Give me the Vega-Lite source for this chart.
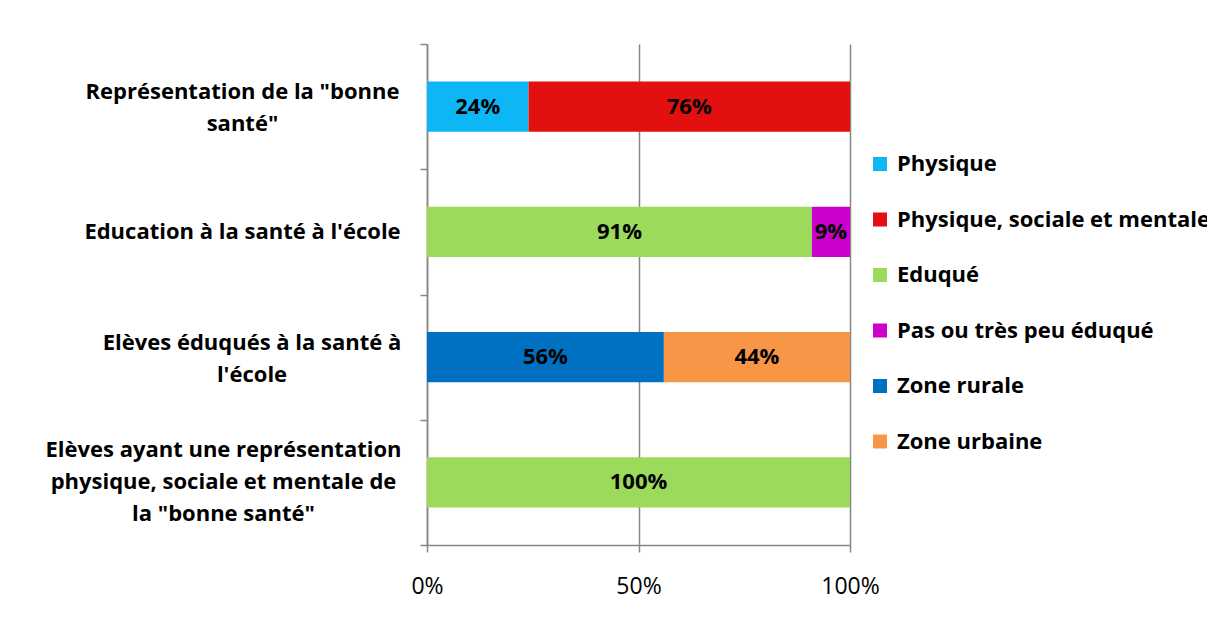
{
  "$schema": "https://vega.github.io/schema/vega-lite/v6.json",
  "width": 423,
  "height": 501,
  "autosize": "none",
  "padding": {"left": 427, "top": 44, "right": 357, "bottom": 78},
  "background": "white",
  "config": {"font": "Open Sans", "view": {"stroke": null}},
  "data": {
    "values": [
      {"q": "Représentation de la \"bonne santé\"", "cat": "Physique", "value": 0.24},
      {"q": "Représentation de la \"bonne santé\"", "cat": "Physique, sociale et mentale", "value": 0.76},
      {"q": "Education à la santé à l'école", "cat": "Eduqué", "value": 0.91},
      {"q": "Education à la santé à l'école", "cat": "Pas ou très peu éduqué", "value": 0.09},
      {"q": "Elèves éduqués à la santé à l'école", "cat": "Zone rurale", "value": 0.56},
      {"q": "Elèves éduqués à la santé à l'école", "cat": "Zone urbaine", "value": 0.44},
      {"q": "Elèves ayant une représentation physique, sociale et mentale de la \"bonne santé\"", "cat": "Eduqué", "value": 1.0}
    ]
  },
  "transform": [
    {"stack": "value", "groupby": ["q"], "sort": [{"field": "cat", "order": "ascending"}], "as": ["v0", "v1"]},
    {"calculate": "(datum.v0 + datum.v1) / 2", "as": "mid"}
  ],
  "encoding": {
    "y": {
      "field": "q",
      "type": "nominal",
      "sort": null,
      "title": null,
      "scale": {"paddingInner": 0, "paddingOuter": 0},
      "axis": {
        "grid": false,
        "tickBand": "extent",
        "domainColor": "#868686",
        "domainWidth": 1.5,
        "tickColor": "#868686",
        "tickWidth": 1.5,
        "tickSize": 7,
        "labelFont": "Open Sans",
        "labelFontWeight": "bold",
        "labelFontSize": 22,
        "labelColor": "black",
        "labelLineHeight": 32,
        "labelLimit": 0,
        "labelAlign": "center",
        "labelBaseline": "middle",
        "labelOffset": {"expr": "datum.value == 'Elèves ayant une représentation physique, sociale et mentale de la \"bonne santé\"' ? -33 : (datum.value == 'Education à la santé à l\\'école' ? 0 : -15)"},
        "labelPadding": {"expr": "datum.value == 'Elèves ayant une représentation physique, sociale et mentale de la \"bonne santé\"' ? 197 : (datum.value == 'Elèves éduqués à la santé à l\\'école' ? 168.5 : 178)"},
        "labelExpr": "datum.value == 'Représentation de la \"bonne santé\"' ? ['Représentation de la \"bonne', 'santé\"'] : (datum.value == 'Elèves ayant une représentation physique, sociale et mentale de la \"bonne santé\"' ? ['Elèves ayant une représentation', 'physique, sociale et mentale de', 'la \"bonne santé\"'] : (datum.value == 'Elèves éduqués à la santé à l\\'école' ? ['Elèves éduqués à la santé à', 'l\\'école'] : datum.value))"
      }
    }
  },
  "layer": [
    {
      "mark": {"type": "bar", "height": {"band": 0.4}},
      "encoding": {
        "x": {
          "field": "v0",
          "type": "quantitative",
          "title": null,
          "scale": {"domain": [0, 1]},
          "axis": {
            "values": [0, 0.5, 1],
            "format": ".0%",
            "grid": true,
            "gridColor": "#868686",
            "gridWidth": 1.5,
            "domainColor": "#868686",
            "domainWidth": 1.5,
            "tickColor": "#868686",
            "tickWidth": 1.5,
            "tickSize": 7,
            "labelFont": "Open Sans",
            "labelFontSize": 23,
            "labelColor": "black",
            "labelPadding": 23,
            "labelFlush": false
          }
        },
        "x2": {"field": "v1"},
        "color": {
          "field": "cat",
          "type": "nominal",
          "scale": {
            "domain": ["Physique", "Physique, sociale et mentale", "Eduqué", "Pas ou très peu éduqué", "Zone rurale", "Zone urbaine"],
            "range": ["#0DB7F5", "#E31010", "#9BDA5A", "#CC00CC", "#0070C0", "#F79646"]
          },
          "legend": {
            "title": null,
            "orient": "none",
            "legendX": 442,
            "legendY": 109,
            "symbolType": "square",
            "symbolSize": 196,
            "symbolStrokeWidth": 0,
            "labelFont": "Open Sans",
            "labelFontSize": 22,
            "labelFontWeight": "bold",
            "labelColor": "black",
            "labelOffset": 6,
            "labelLimit": 0,
            "rowPadding": 33.5
          }
        }
      }
    },
    {
      "mark": {"type": "text", "font": "Open Sans", "fontWeight": "bold", "fontSize": 22, "color": "black", "baseline": "middle", "align": "center"},
      "encoding": {
        "x": {"field": "mid", "type": "quantitative"},
        "text": {"field": "value", "type": "quantitative", "format": ".0%"}
      }
    }
  ]
}
